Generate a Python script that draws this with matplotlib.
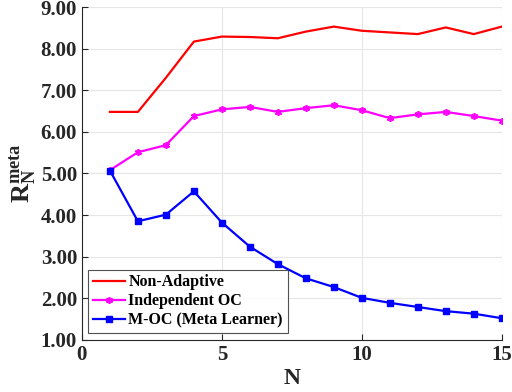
import matplotlib.pyplot as plt
import matplotlib

matplotlib.rcParams["font.family"] = ["Liberation Serif", "DejaVu Serif"]
matplotlib.rcParams["font.weight"] = "bold"
matplotlib.rcParams["mathtext.fontset"] = "custom"
matplotlib.rcParams["mathtext.rm"] = "Liberation Serif:bold"
matplotlib.rcParams["mathtext.bf"] = "Liberation Serif:bold"
matplotlib.rcParams["mathtext.it"] = "Liberation Serif:bold"

N = list(range(1, 16))
non_adaptive = [6.48, 6.48, 7.30, 8.17, 8.29, 8.28, 8.25, 8.41, 8.53, 8.43, 8.39, 8.35, 8.51, 8.35, 8.53]
independent_oc = [5.08, 5.51, 5.68, 6.38, 6.54, 6.60, 6.48, 6.57, 6.64, 6.52, 6.33, 6.42, 6.48, 6.38, 6.27]
meta_oc = [5.07, 3.85, 4.01, 4.57, 3.82, 3.24, 2.82, 2.48, 2.27, 2.01, 1.89, 1.79, 1.69, 1.63, 1.52]

fig = plt.figure(figsize=(5.12, 3.92), dpi=100)
ax = fig.add_axes([0.16, 0.133, 0.82, 0.849])

ax.plot(N, non_adaptive, color="#ff0000", lw=1.6, label="Non-Adaptive")
ax.plot(N, independent_oc, color="#ff00ff", lw=1.6, marker=(6, 2, 0), ms=5,
        mew=1.2, label="Independent OC")
ax.plot(N, meta_oc, color="#0000ff", lw=1.6, marker="s", ms=4, label="M-OC (Meta Learner)")

ax.set_xlim(0, 15)
ax.set_ylim(1, 9)
ax.set_xticks([0, 5, 10, 15])
ax.set_yticks(range(1, 10))
ax.set_yticklabels([f"{v:.2f}" for v in range(1, 10)])
ax.grid(True, color="#e6e6e6", lw=0.8)
ax.set_axisbelow(True)
for s in ["top", "right"]:
    ax.spines[s].set_visible(False)
for s in ["left", "bottom"]:
    ax.spines[s].set_color("#262626")
ax.tick_params(direction="in", labelsize=15, colors="#262626", length=4)
for lab in ax.get_xticklabels() + ax.get_yticklabels():
    lab.set_fontweight("bold")

ax.set_xlabel("N", fontsize=17, fontweight="bold", labelpad=2, color="#262626")
ax.set_ylabel(r"$\mathrm{R_N^{meta}}$", fontsize=19, labelpad=2, color="#262626")

leg = ax.legend(loc="lower left", fontsize=11.5, frameon=True, fancybox=False,
                edgecolor="#262626", handlelength=2.0, handletextpad=0.2,
                borderpad=0.3, labelspacing=0.2, borderaxespad=0.4)
leg.get_frame().set_linewidth(0.8)
for t in leg.get_texts():
    t.set_fontweight("bold")

fig.savefig("out.png", dpi=100)
